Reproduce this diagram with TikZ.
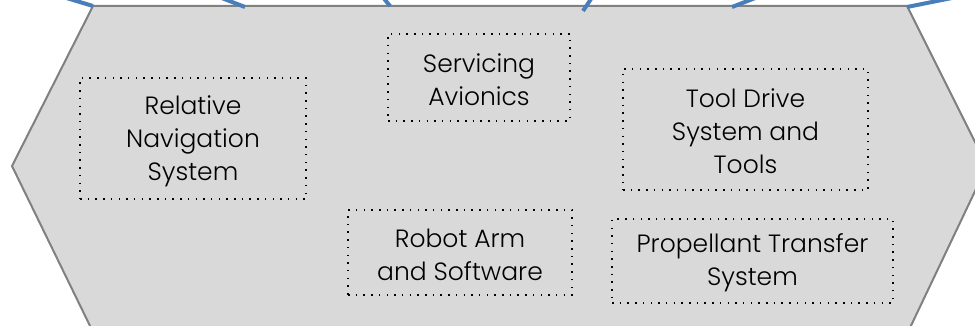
\documentclass[tikz,border=0pt]{standalone}
\usepackage{fontspec}
\setmainfont{Poppins Light}
\definecolor{hexfill}{HTML}{D9D9D9}
\definecolor{hexline}{HTML}{808080}
\definecolor{linkblue}{HTML}{4A7EBB}
\begin{document}
\begin{tikzpicture}[x=1pt,y=-1pt,
  part/.style={draw=black, line width=1.5pt, dash pattern=on 1.5pt off 6.2pt, inner sep=0pt},
  partlabel/.style={align=center, inner sep=0pt, font=\fontsize{25}{33}\selectfont, text=black},
  link/.style={draw=linkblue, line width=4pt},
  hex/.style={fill=hexfill, draw=hexline, line width=2pt, line join=miter}]
\useasboundingbox (0,0) rectangle (975,326);
\clip (0,0) rectangle (975,326);
% hexagon
\path[hex] (93,6) -- (12,166) -- (93,332) -- (908,332) -- (987,166) -- (907,6) -- cycle;
% connectors from above
\coordinate (s1) at (40,-10);  \coordinate (e1) at (93,6);
\coordinate (s2) at (201,-10); \coordinate (e2) at (245,7);
\coordinate (s3) at (377,-10); \coordinate (e3) at (390,6);
\coordinate (s4) at (597,-10); \coordinate (e4) at (583,11);
\coordinate (s5) at (776,-10); \coordinate (e5) at (732,7);
\coordinate (s6) at (992,-10); \coordinate (e6) at (907,7);
\foreach \i in {1,...,6} \draw[link] (s\i) -- (e\i);
% parts
\node[part, minimum width=226pt, minimum height=121pt] (nav) at (193,138.5) {};
\node[part, minimum width=182pt, minimum height=87pt] (avi) at (479,77.5) {};
\node[part, minimum width=245pt, minimum height=121pt] (tool) at (745.5,129.5) {};
\node[part, minimum width=224pt, minimum height=85pt] (robot) at (460,252.5) {};
\node[part, minimum width=281pt, minimum height=84pt] (prop) at (752.5,261) {};
\node[partlabel] (navt) at ([yshift=-3pt]nav.center) {Relative\\Navigation\\System};
\node[partlabel] (avit) at ([yshift=-2.5pt]avi.center) {Servicing\\Avionics};
\node[partlabel] (toolt) at ([yshift=-2pt]tool.center) {Tool Drive\\System and\\Tools};
\node[partlabel] (robott) at ([yshift=-2.5pt]robot.center) {Robot Arm\\and Software};
\node[partlabel] (propt) at ([yshift=-2pt]prop.center) {Propellant Transfer\\System};
\end{tikzpicture}
\end{document}
